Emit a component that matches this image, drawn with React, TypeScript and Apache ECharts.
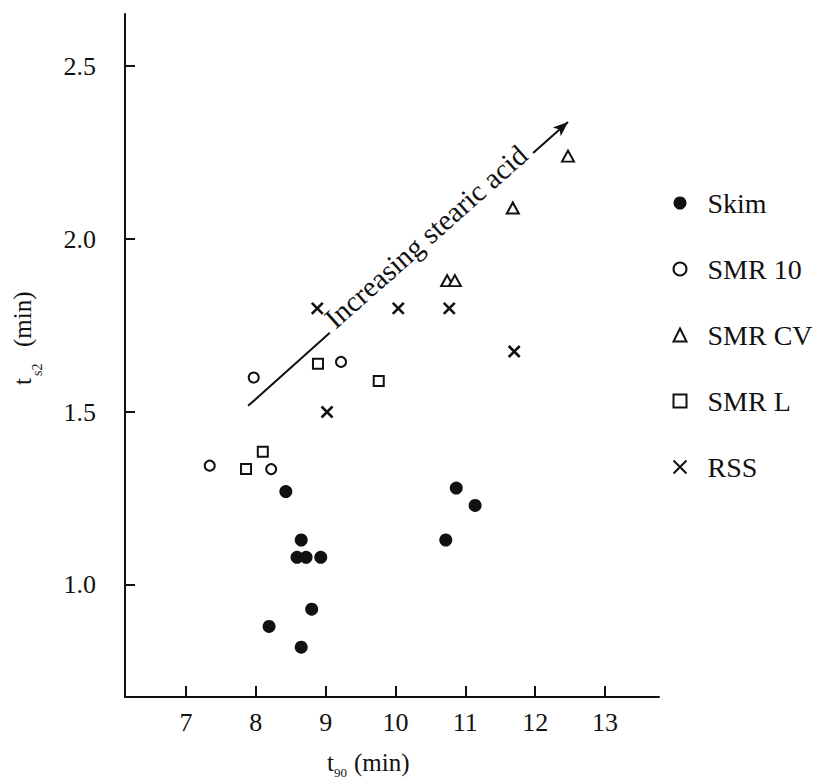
import React, { useEffect, useRef } from "react";
import * as echarts from "echarts";

// ---- data ----
const xTicks = [7, 8, 9, 10, 11, 12, 13];
const yTicks = [1.0, 1.5, 2.0, 2.5];
const seriesNames = ["Skim", "SMR 10", "SMR CV", "SMR L", "RSS"];

const skim = [
  [8.43, 1.27], [8.65, 1.13], [8.59, 1.08], [8.72, 1.08], [8.93, 1.08],
  [8.8, 0.93], [8.19, 0.88], [8.65, 0.82], [10.87, 1.28], [11.14, 1.23], [10.72, 1.13],
];
const smr10 = [[7.97, 1.6], [9.22, 1.645], [7.34, 1.345], [8.22, 1.335]];
const smrCV = [[12.47, 2.24], [11.68, 2.09], [10.74, 1.88], [10.85, 1.88]];
const smrL = [[8.89, 1.64], [9.76, 1.59], [8.1, 1.385], [7.86, 1.335]];
const rss = [[8.88, 1.8], [10.04, 1.8], [10.77, 1.8], [11.7, 1.675], [9.02, 1.5]];

const trendLine = [[7.89, 1.518], [9.06, 1.729]];
const arrowLine = [[11.97, 2.249], [12.47, 2.339]];
const annotationText = "Increasing stearic acid";

const X_MIN = 6.127;
const X_MAX = 13.773;
const Y_MIN = 0.676;
const Y_MAX = 2.651;

const INK = "#111111";
const FONT = "'Liberation Serif', 'Times New Roman', serif";

function buildOption() {
  const openStyle = { color: INK, borderColor: INK, borderWidth: 2.4, opacity: 1 };
  return {
    animation: false,
    backgroundColor: "#ffffff",
    grid: { left: 125, right: 161, top: 14, bottom: 83 },
    xAxis: {
      type: "value",
      min: X_MIN,
      max: X_MAX,
      axisLine: { show: true, onZero: false, lineStyle: { color: INK, width: 2 } },
      axisTick: { show: true, inside: true, length: 11, customValues: xTicks, lineStyle: { color: INK, width: 2 } },
      axisLabel: { customValues: xTicks, color: INK, fontFamily: FONT, fontSize: 26, margin: 12 },
      splitLine: { show: false },
    },
    yAxis: {
      type: "value",
      min: Y_MIN,
      max: Y_MAX,
      axisLine: { show: true, onZero: false, lineStyle: { color: INK, width: 2 } },
      axisTick: { show: true, inside: true, length: 10, customValues: yTicks, lineStyle: { color: INK, width: 2 } },
      axisLabel: {
        customValues: yTicks,
        formatter: (v: number) => v.toFixed(1),
        color: INK,
        fontFamily: FONT,
        fontSize: 26,
        margin: 29,
        padding: [0, 0, 8, 0],
      },
      splitLine: { show: false },
    },
    legend: {
      orient: "vertical",
      left: 666,
      top: 184,
      itemWidth: 13,
      itemHeight: 13,
      itemGap: 38,
      data: seriesNames,
      textStyle: { color: INK, fontFamily: FONT, fontSize: 28, lineHeight: 26, padding: [0, 0, 0, 16] },
    },
    series: [
      { name: "Skim", type: "scatter", data: skim, symbol: "circle", symbolSize: 13, itemStyle: { color: INK, opacity: 1 } },
      { name: "SMR 10", type: "scatter", data: smr10, symbol: "emptyCircle", symbolSize: 10, itemStyle: openStyle },
      { name: "SMR CV", type: "scatter", data: smrCV, symbol: "emptyTriangle", symbolSize: [12, 11], itemStyle: openStyle },
      { name: "SMR L", type: "scatter", data: smrL, symbol: "emptyRect", symbolSize: 10, itemStyle: openStyle },
      {
        name: "RSS",
        type: "scatter",
        data: rss,
        symbol: "path://M0,0L10,10M10,0L0,10",
        symbolSize: 11,
        itemStyle: { color: "none", borderColor: INK, borderWidth: 2.6, opacity: 1 },
      },
      {
        name: "annotation",
        type: "line",
        data: [],
        markLine: {
          silent: true,
          animation: false,
          symbol: ["none", "none"],
          label: { show: false },
          data: [
            [
              { coord: trendLine[0], lineStyle: { color: INK, width: 2, type: "solid", opacity: 1 } },
              { coord: trendLine[1] },
            ],
            [
              { coord: arrowLine[0], symbol: "none", lineStyle: { color: INK, width: 2, type: "solid", opacity: 1 } },
              { coord: arrowLine[1], symbol: "arrow", symbolSize: [9, 15] },
            ],
            [
              {
                coord: trendLine[1],
                lineStyle: { color: "rgba(0,0,0,0)", width: 0, opacity: 1 },
                label: {
                  show: true,
                  formatter: annotationText,
                  position: "middle",
                  distance: -6,
                  color: INK,
                  fontFamily: FONT,
                  fontSize: 29,
                },
              },
              { coord: arrowLine[0] },
            ],
          ],
        },
      },
    ],
    graphic: [
      { type: "text", x: 327, y: 762, style: { text: "t", fill: INK, font: `25px ${FONT}`, textAlign: "left", textVerticalAlign: "middle" } },
      { type: "text", x: 334, y: 772, style: { text: "90", fill: INK, font: `13px ${FONT}`, textAlign: "left", textVerticalAlign: "middle" } },
      { type: "text", x: 354, y: 762, style: { text: "(min)", fill: INK, font: `25px ${FONT}`, textAlign: "left", textVerticalAlign: "middle" } },
      {
        type: "group",
        x: 22,
        y: 385,
        rotation: Math.PI / 2,
        children: [
          { type: "text", x: 0, y: 0, style: { text: "t", fill: INK, font: `25px ${FONT}`, textAlign: "left", textVerticalAlign: "middle" } },
          { type: "text", x: 9, y: 15, style: { text: "s2", fill: INK, font: `14px ${FONT}`, textAlign: "left", textVerticalAlign: "middle" } },
          { type: "text", x: 38, y: 0, style: { text: "(min)", fill: INK, font: `25px ${FONT}`, textAlign: "left", textVerticalAlign: "middle" } },
        ],
      },
    ],
  };
}

export default function App() {
  const ref = useRef<HTMLDivElement>(null);
  useEffect(() => {
    if (!ref.current) return;
    const chart = echarts.init(ref.current, null, { renderer: "svg" });
    chart.setOption(buildOption() as any);
    return () => chart.dispose();
  }, []);
  return <div ref={ref} style={{ position: "absolute", left: 0, top: 0, width: 820, height: 780 }} />;
}
